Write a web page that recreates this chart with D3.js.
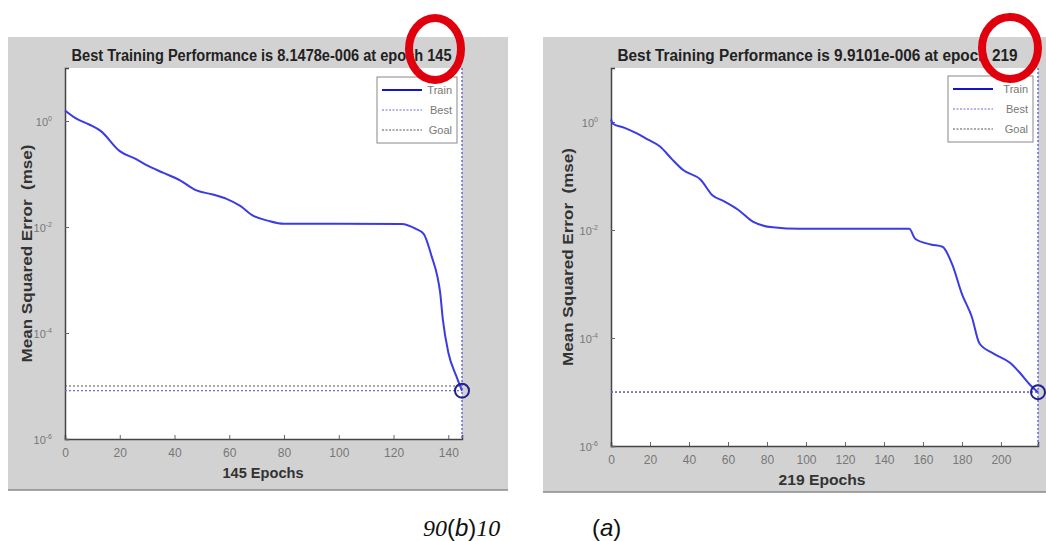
<!DOCTYPE html>
<html>
<head>
<meta charset="utf-8">
<script src="https://cdn.jsdelivr.net/npm/d3@7"></script>
<style>
  body { margin: 0; background: #fff; }
  svg { display: block; }
  text { font-family: "Liberation Sans", Arial, sans-serif; }
</style>
</head>
<body>
<div id="container-div"></div>
<script>
// left figure: 145 epochs
var leftEpochs = [0, 4, 9, 13, 20, 26, 30, 36, 42, 48, 54, 59, 64, 69, 74, 80, 100, 123, 128, 131, 134, 136, 137, 138, 140, 143, 145];
var leftMse = [1.58, 1.12, 0.85, 0.65, 0.27, 0.19, 0.145, 0.105, 0.076, 0.049, 0.041, 0.034, 0.025, 0.016, 0.0132, 0.0115, 0.0115, 0.0114, 0.0093, 0.0074, 0.0027, 0.00117, 0.00059, 0.00018, 4.3e-5, 1.5e-5, 8.1478e-6];
var leftBest = 8.1478e-6;
var leftGoal = 1e-5;
var leftXTicks = [0, 20, 40, 60, 80, 100, 120, 140];

// right figure: 219 epochs
var rightEpochs = [0, 1, 7, 13, 19, 25, 31, 37, 46, 52, 58, 65, 73, 83, 97, 125, 153, 156, 164, 170, 175, 180, 185, 189, 196, 205, 210, 215, 219];
var rightMse = [1.12, 0.93, 0.78, 0.62, 0.47, 0.355, 0.21, 0.129, 0.085, 0.044, 0.034, 0.024, 0.0141, 0.0112, 0.0105, 0.0105, 0.0105, 0.0069, 0.0054, 0.0049, 0.0023, 0.00065, 0.00025, 7.9e-5, 5.2e-5, 3.4e-5, 2.2e-5, 1.35e-5, 9.9101e-6];
var rightBest = 9.9101e-6;
var rightGoal = 1e-5;
var rightXTicks = [0, 20, 40, 60, 80, 100, 120, 140, 160, 180, 200];

var yTickExps = [0, -2, -4, -6];
var legendNames = ["Train", "Best", "Goal"];

let viz = d3.select("#container-div").append("svg")
    .attr("width", 1046)
    .attr("height", 541)
    .attr("id", "viz");

function drawPanel(cfg) {
    var g = viz.append("g");

    // gray figure background
    g.append("rect")
        .attr("x", cfg.panel[0]).attr("y", cfg.panel[1])
        .attr("width", cfg.panel[2]).attr("height", cfg.panel[3])
        .attr("fill", "#d2d2d2");
    g.append("line")
        .attr("x1", cfg.panel[0]).attr("x2", cfg.panel[0] + cfg.panel[2])
        .attr("y1", cfg.panel[1] + cfg.panel[3]).attr("y2", cfg.panel[1] + cfg.panel[3])
        .attr("stroke", "#8a8a8a").attr("stroke-width", 1.5);

    var x = d3.scaleLinear().domain([0, cfg.epochs[cfg.epochs.length - 1]]).range([cfg.left, cfg.right]);
    var y = d3.scaleLog().domain([1e-6, 10]).range([cfg.bottom, cfg.top]);

    // white axes area
    g.append("rect")
        .attr("x", cfg.left).attr("y", cfg.top)
        .attr("width", cfg.right - cfg.left).attr("height", cfg.bottom - cfg.top)
        .attr("fill", "#fff");

    // title
    g.append("text")
        .attr("x", (cfg.left + cfg.right) / 2 + cfg.titleDx)
        .attr("y", cfg.top - 7)
        .attr("text-anchor", "middle")
        .attr("font-size", 16).attr("font-weight", "bold")
        .attr("fill", "#222")
        .attr("textLength", cfg.titleLen).attr("lengthAdjust", "spacingAndGlyphs")
        .text(cfg.title);

    // x axis
    var xAxis = d3.axisBottom(x).tickValues(cfg.xTicks).tickSize(-4).tickPadding(9).tickFormat(d3.format("d"));
    var xg = g.append("g").attr("transform", "translate(0," + cfg.bottom + ")").call(xAxis);
    xg.select(".domain").attr("stroke", "#444").attr("stroke-width", 1.5);
    xg.selectAll(".tick line").attr("stroke", "#666");
    xg.selectAll(".tick text")
        .attr("font-size", 12).attr("fill", "#777")
        .attr("font-family", "Liberation Sans, Arial, sans-serif");

    // y axis (log, labelled every two decades)
    var yAxis = d3.axisLeft(y).tickValues(yTickExps.map(function (e) { return Math.pow(10, e); }))
        .tickSize(-4).tickFormat("");
    var yg = g.append("g").attr("transform", "translate(" + cfg.left + ",0)").call(yAxis);
    yg.select(".domain").attr("stroke", "#444").attr("stroke-width", 1.5);
    yg.selectAll(".tick line").attr("stroke", "#666");
    yTickExps.forEach(function (e) {
        var t = g.append("text")
            .attr("x", cfg.left - 13).attr("y", y(Math.pow(10, e)) + 5)
            .attr("text-anchor", "end").attr("font-size", 11).attr("fill", "#777");
        t.append("tspan").text("10");
        t.append("tspan").attr("dy", -5).attr("font-size", 7).text(e === 0 ? "0" : String(e));
    });

    // axis labels
    g.append("text")
        .attr("transform", "translate(" + cfg.ylabX + "," + ((cfg.top + cfg.bottom) / 2) + ") rotate(-90)")
        .attr("text-anchor", "middle").attr("font-size", 14).attr("font-weight", "bold").attr("fill", "#333")
        .attr("textLength", 218).attr("lengthAdjust", "spacingAndGlyphs")
        .style("white-space", "pre")
        .text("Mean Squared Error  (mse)");
    g.append("text")
        .attr("x", cfg.xlabX).attr("y", cfg.xlabY)
        .attr("text-anchor", "middle").attr("font-size", 15).attr("font-weight", "bold").attr("fill", "#333")
        .attr("textLength", cfg.xlabLen).attr("lengthAdjust", "spacingAndGlyphs")
        .text(cfg.xlab);

    var lastEpoch = cfg.epochs[cfg.epochs.length - 1];

    // goal and best lines
    g.append("line")
        .attr("x1", x(0)).attr("x2", x(lastEpoch))
        .attr("y1", y(cfg.goal)).attr("y2", y(cfg.goal))
        .attr("stroke", "#555").attr("stroke-width", 1.2).attr("stroke-dasharray", "2,2");
    g.append("line")
        .attr("x1", x(0)).attr("x2", x(lastEpoch))
        .attr("y1", y(cfg.best)).attr("y2", y(cfg.best))
        .attr("stroke", "#6a6ad8").attr("stroke-width", 1.2).attr("stroke-dasharray", "2,2");
    g.append("line")
        .attr("x1", x(lastEpoch)).attr("x2", x(lastEpoch))
        .attr("y1", cfg.top).attr("y2", cfg.bottom)
        .attr("stroke", "#6a6ad8").attr("stroke-width", 1.5).attr("stroke-dasharray", "2,2");

    // training curve
    var line = d3.line()
        .x(function (d) { return x(d[0]); })
        .y(function (d) { return y(d[1]); })
        .curve(d3.curveMonotoneX);
    g.append("path")
        .datum(d3.zip(cfg.epochs, cfg.mse))
        .attr("d", line)
        .attr("fill", "none")
        .attr("stroke", "#3b3be6")
        .attr("stroke-width", 2);

    // best point marker
    g.append("circle")
        .attr("cx", x(lastEpoch)).attr("cy", y(cfg.best)).attr("r", 7)
        .attr("fill", "none").attr("stroke", "#20208f").attr("stroke-width", 2);

    // legend
    var lg = g.append("g").attr("transform", "translate(" + cfg.legend[0] + "," + cfg.legend[1] + ")");
    lg.append("rect").attr("width", cfg.legendW).attr("height", 66)
        .attr("fill", "#fff").attr("stroke", "#888").attr("stroke-width", 1);
    var items = lg.selectAll("empty").data(legendNames).enter().append("g")
        .attr("transform", function (d, i) { return "translate(0," + (13 + i * 20) + ")"; });
    items.append("line")
        .attr("x1", 5).attr("x2", 45).attr("y1", 0).attr("y2", 0)
        .attr("stroke", function (d) { return d === "Goal" ? "#555" : (d === "Best" ? "#6a6ad8" : "#1414d0"); })
        .attr("stroke-width", function (d) { return d === "Train" ? 2 : 1; })
        .attr("stroke-dasharray", function (d) { return d === "Train" ? null : "2,1.5"; });
    items.append("text")
        .attr("x", cfg.legendW - 5).attr("y", 4)
        .attr("text-anchor", "end").attr("font-size", 11).attr("fill", "#777")
        .text(function (d) { return d; });

    // red highlight ring
    g.append("ellipse")
        .attr("cx", cfg.ring[0]).attr("cy", cfg.ring[1])
        .attr("rx", cfg.ring[2]).attr("ry", cfg.ring[3])
        .attr("fill", "none").attr("stroke", "#e0000d").attr("stroke-width", 8);
}

drawPanel({
    panel: [8, 37, 500, 453],
    left: 65, right: 462, top: 68, bottom: 439,
    epochs: leftEpochs, mse: leftMse, best: leftBest, goal: leftGoal, xTicks: leftXTicks,
    title: "Best Training Performance is 8.1478e-006 at epoch 145", titleLen: 380, titleDx: -2,
    xlab: "145 Epochs", xlabX: 263, xlabY: 478, xlabLen: 81,
    ylabX: 32,
    legend: [377, 77], legendW: 80,
    ring: [435, 49, 26, 31]
});

drawPanel({
    panel: [543, 37, 510, 455],
    left: 611, right: 1038, top: 68, bottom: 446,
    epochs: rightEpochs, mse: rightMse, best: rightBest, goal: rightGoal, xTicks: rightXTicks,
    title: "Best Training Performance is 9.9101e-006 at epoch 219", titleLen: 400, titleDx: -7,
    xlab: "219 Epochs", xlabX: 822, xlabY: 485, xlabLen: 87,
    ylabX: 573,
    legend: [948, 76], legendW: 85,
    ring: [1010, 48, 28, 31]
});

// figure captions
var cap = viz.append("text").attr("x", 423).attr("y", 536).attr("font-size", 24).attr("fill", "#111");
cap.append("tspan").attr("font-family", "Liberation Serif, Times New Roman, serif").attr("font-style", "italic").text("90");
cap.append("tspan").attr("font-family", "Liberation Sans, Arial, sans-serif").text("(");
cap.append("tspan").attr("font-family", "Liberation Sans, Arial, sans-serif").attr("font-style", "italic").text("b");
cap.append("tspan").attr("font-family", "Liberation Sans, Arial, sans-serif").text(")");
cap.append("tspan").attr("font-family", "Liberation Serif, Times New Roman, serif").attr("font-style", "italic").text("10");

var cap2 = viz.append("text").attr("x", 592).attr("y", 536).attr("font-size", 24).attr("fill", "#111")
    .attr("font-family", "Liberation Sans, Arial, sans-serif");
cap2.append("tspan").text("(");
cap2.append("tspan").attr("font-style", "italic").text("a");
cap2.append("tspan").text(")");
</script>
</body>
</html>
